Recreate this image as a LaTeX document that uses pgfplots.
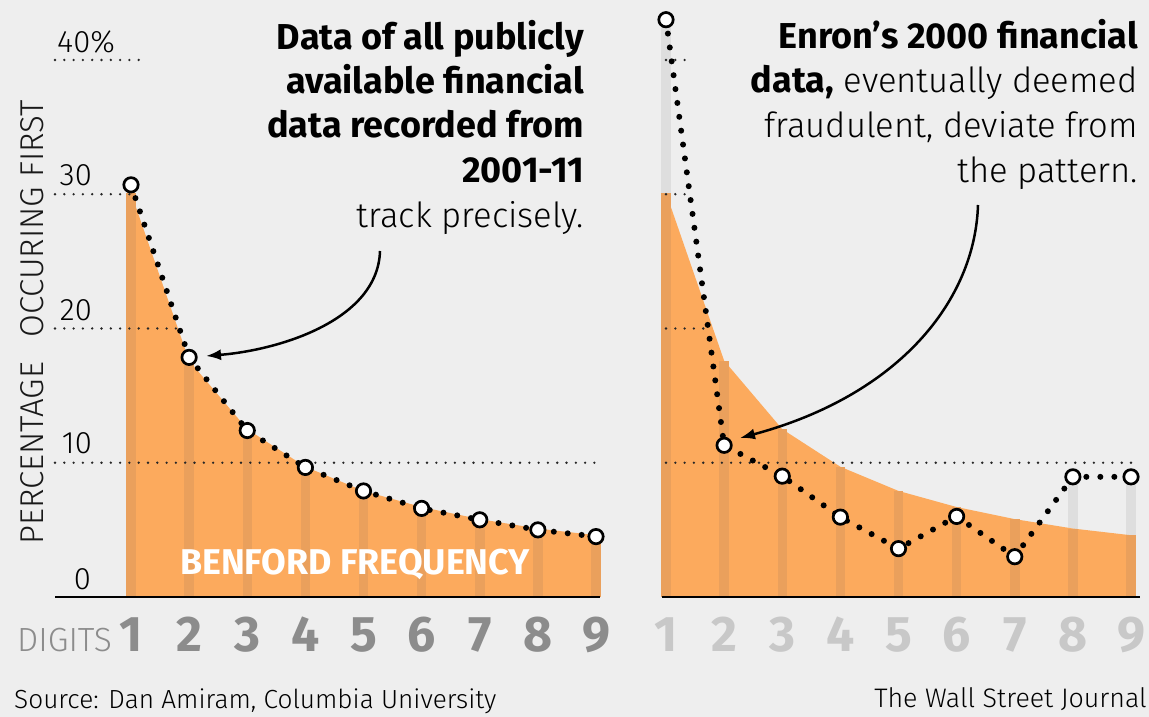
\documentclass[border=0pt]{standalone}
\usepackage{fontspec}
\setmainfont{Fira Sans Light}[BoldFont={Fira Sans Bold}]
\usepackage{pgfplots}
\pgfplotsset{compat=1.18}
\usetikzlibrary{arrows.meta}
\definecolor{bg}{RGB}{238,238,238}
\definecolor{orng}{RGB}{252,170,93}
\definecolor{strp}{RGB}{234,160,92}
\definecolor{gstrp}{RGB}{222,222,222}
\definecolor{dgl}{RGB}{140,140,140}
\definecolor{dgr}{RGB}{200,200,200}
\newcommand\fs[1]{\fontsize{#1pt}{#1pt}\selectfont}
\pgfplotstableread{
d benford
1 30.1
2 17.6
3 12.5
4 9.7
5 7.9
6 6.7
7 5.8
8 5.1
9 4.6
}\benford
\pgfplotstableread{
d pub
1 30.7
2 17.85
3 12.4
4 9.65
5 7.9
6 6.6
7 5.75
8 5.0
9 4.5
}\public
\pgfplotstableread{
d enron
1 43.0
2 11.3
3 9.0
4 5.95
5 3.6
6 6.0
7 3.0
8 8.95
9 8.95
}\enron
\tikzset{
  grd/.style={line width=2.6pt, dash pattern=on 0pt off 9.3pt, line cap=round, black!85},
  dline/.style={black, line width=6pt, dash pattern=on 0pt off 14pt, line cap=round,
     mark=*, mark size=7.2pt, mark options={solid, fill=white, draw=black, line width=2.7pt}},
}
\begin{document}
\begin{tikzpicture}
\fill[bg] (0,0) rectangle (1149pt,717pt);
\useasboundingbox (0,0) rectangle (1149pt,717pt);
% left panel
\begin{axis}[at={(72.875pt,120pt)}, anchor=south west, scale only axis,
  width=581.25pt, height=537pt, xmin=0, xmax=10, ymin=0, ymax=40,
  hide axis, clip=false]
\addplot[fill=orng, draw=none] table[x=d,y=benford]{\benford} \closedcycle;
\addplot[ycomb, draw=strp, line width=9.5pt, mark=none] table[x=d,y=benford]{\benford};
\draw[grd] (axis cs:-0.3075,40) -- (axis cs:1.155,40);
\draw[grd] (axis cs:-0.3075,30) -- (axis cs:1.12,30);
\draw[grd] (axis cs:-0.3075,20) -- (axis cs:1.843,20);
\draw[grd] (axis cs:-0.3075,10) -- (axis cs:9.07,10);
\draw[line width=2pt] (axis cs:-0.3075,0) -- (axis cs:9.07,0);
\addplot[dline] table[x=d,y=pub]{\public};
\end{axis}
% right panel
\begin{axis}[at={(607.875pt,120pt)}, anchor=south west, scale only axis,
  width=581.25pt, height=537pt, xmin=0, xmax=10, ymin=0, ymax=40,
  hide axis, clip=false]
\addplot[ycomb, draw=gstrp, line width=9.5pt, mark=none] table[x=d,y=enron]{\enron};
\addplot[fill=orng, draw=none] table[x=d,y=benford]{\benford} \closedcycle;
\addplot[ycomb, draw=strp, line width=9.5pt, mark=none] table[x=d,y=benford]{\benford};
\draw[grd] (axis cs:1.0,40) -- (axis cs:1.344,40);
\draw[grd] (axis cs:1.0,30) -- (axis cs:1.344,30);
\draw[grd] (axis cs:1.0,20) -- (axis cs:1.705,20);
\draw[grd] (axis cs:1.0,10) -- (axis cs:9.07,10);
\draw[line width=2pt] (axis cs:0.931,0) -- (axis cs:9.155,0);
\addplot[dline] table[x=d,y=enron]{\enron};
\end{axis}
\begin{scope}[x=1pt,y=-1pt,yshift=717pt]
% tick labels
\node[anchor=base west, inner sep=0pt] at (57,53) {\fs{31}40\%};
\node[anchor=base east, inner sep=0pt] at (92,186) {\fs{31}30};
\node[anchor=base east, inner sep=0pt] at (92,321) {\fs{31}20};
\node[anchor=base east, inner sep=0pt] at (92,454) {\fs{31}10};
\node[anchor=base east, inner sep=0pt] at (91,590) {\fs{31}0};
% y label
\node[anchor=base, rotate=90, inner sep=0pt, text=black!90] at (43,322) {\fs{33}PERCENTAGE\hspace{0.45em} OCCURING FIRST};
% digits
\node[anchor=base west, inner sep=0pt, text=dgl] at (17,652) {\fs{33.5}DIGITS};
\foreach \i in {1,...,9} {
  \node[anchor=base, inner sep=0pt, text=dgl] at ({131+58.125*(\i-1)},652) {\fs{50}\bfseries \i};
  \node[anchor=base, inner sep=0pt, text=dgr] at ({666+58.125*(\i-1)},652) {\fs{50}\bfseries \i};
}
% benford label
\node[anchor=base west, inner sep=0pt, text=white] at (180,575) {\fs{35.8}\bfseries BENFORD FREQUENCY};
% left title
\node[anchor=base east, inner sep=0pt] at (584,50) {\fs{36}\bfseries Data of all publicly};
\node[anchor=base east, inner sep=0pt] at (584,94) {\fs{36}\bfseries available financial};
\node[anchor=base east, inner sep=0pt] at (584,138) {\fs{36}\bfseries data recorded from};
\node[anchor=base east, inner sep=0pt] at (584,183) {\fs{36}\bfseries 2001-11};
\node[anchor=base east, inner sep=0pt] at (584,228) {\fs{34.6}track precisely.};
% right title
\node[anchor=base east, inner sep=0pt] at (1138,49) {\fs{36}\bfseries Enron’s 2000 financial};
\node[anchor=base east, inner sep=0pt] at (1138,93) {\fs{34.6}{\fs{36}\bfseries data,} eventually deemed};
\node[anchor=base east, inner sep=0pt] at (1138,138) {\fs{34.6}fraudulent, deviate from};
\node[anchor=base east, inner sep=0pt] at (1138,183) {\fs{34.6}the pattern.};
% arrows
\draw[line width=2.5pt, -{Latex[length=15pt,width=11pt]}] (380,251) .. controls (378,320) and (280,350) .. (206,356);
\draw[line width=2.5pt, -{Latex[length=15pt,width=11pt]}] (978,205) .. controls (975,300) and (900,395) .. (740,438);
% source
\node[anchor=base west, inner sep=0pt] at (14,709) {\fs{26.2}Source: Dan Amiram, Columbia University};
\node[anchor=base east, inner sep=0pt] at (1147,708) {\fs{26.8}The Wall Street Journal};
\end{scope}
\end{tikzpicture}
\end{document}
